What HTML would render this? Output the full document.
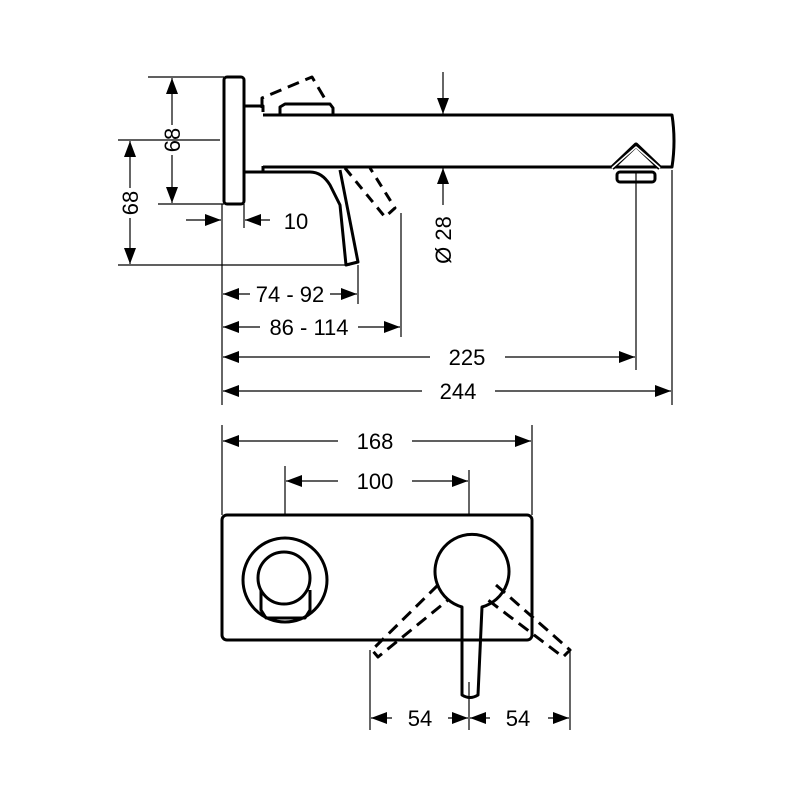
<!DOCTYPE html>
<html><head><style>html,body{margin:0;padding:0;background:#fff}</style></head><body>
<svg width="800" height="800" viewBox="0 0 800 800" xmlns="http://www.w3.org/2000/svg">
<defs>
<marker id="a" viewBox="0 0 16 12" refX="16" refY="6" markerWidth="16" markerHeight="12" markerUnits="userSpaceOnUse" orient="auto"><path d="M0,0L16,6L0,12z" fill="#000"/></marker>
</defs>
<g font-family="Liberation Sans, sans-serif" font-size="22" fill="#000">
<g stroke="#000" stroke-width="1.2" fill="none">
<line x1="148" y1="77" x2="224" y2="77"/>
<line x1="158" y1="204" x2="224" y2="204"/>
<line x1="118" y1="140" x2="220" y2="140"/>
<line x1="118" y1="265" x2="350" y2="265"/>
<line x1="222" y1="204" x2="222" y2="405"/>
<line x1="244" y1="204" x2="244" y2="228"/>
<line x1="358" y1="265" x2="358" y2="304"/>
<line x1="401" y1="213" x2="401" y2="337"/>
<line x1="636" y1="172" x2="636" y2="370"/>
<line x1="672" y1="170" x2="672" y2="405"/>
<line x1="172" y1="125" x2="172" y2="78" marker-end="url(#a)"/>
<line x1="172" y1="155" x2="172" y2="203" marker-end="url(#a)"/>
<line x1="130" y1="188" x2="130" y2="141" marker-end="url(#a)"/>
<line x1="130" y1="218" x2="130" y2="264" marker-end="url(#a)"/>
<line x1="186" y1="220" x2="221" y2="220" marker-end="url(#a)"/>
<line x1="270" y1="220" x2="245" y2="220" marker-end="url(#a)"/>
<line x1="443" y1="72" x2="443" y2="114" marker-end="url(#a)"/>
<line x1="443" y1="205" x2="443" y2="168" marker-end="url(#a)"/>
<line x1="250" y1="294" x2="223" y2="294" marker-end="url(#a)"/>
<line x1="330" y1="294" x2="357" y2="294" marker-end="url(#a)"/>
<line x1="260" y1="327" x2="223" y2="327" marker-end="url(#a)"/>
<line x1="358" y1="327" x2="400" y2="327" marker-end="url(#a)"/>
<line x1="430" y1="357" x2="223" y2="357" marker-end="url(#a)"/>
<line x1="505" y1="357" x2="635" y2="357" marker-end="url(#a)"/>
<line x1="422" y1="391" x2="223" y2="391" marker-end="url(#a)"/>
<line x1="495" y1="391" x2="671" y2="391" marker-end="url(#a)"/>
<line x1="222" y1="425" x2="222" y2="515"/>
<line x1="532" y1="425" x2="532" y2="515"/>
<line x1="285" y1="466" x2="285" y2="515"/>
<line x1="469" y1="470" x2="469" y2="515"/>
<line x1="338" y1="441" x2="223" y2="441" marker-end="url(#a)"/>
<line x1="412" y1="441" x2="531" y2="441" marker-end="url(#a)"/>
<line x1="338" y1="481" x2="286" y2="481" marker-end="url(#a)"/>
<line x1="412" y1="481" x2="468" y2="481" marker-end="url(#a)"/>
<line x1="370" y1="650" x2="370" y2="730"/>
<line x1="570" y1="650" x2="570" y2="730"/>
<line x1="469" y1="682" x2="469" y2="730"/>
<line x1="392" y1="718" x2="371" y2="718" marker-end="url(#a)"/>
<line x1="448" y1="718" x2="468" y2="718" marker-end="url(#a)"/>
<line x1="490" y1="718" x2="470" y2="718" marker-end="url(#a)"/>
<line x1="548" y1="718" x2="569" y2="718" marker-end="url(#a)"/>
</g>
<g stroke="#000" stroke-width="3" fill="none" stroke-linejoin="round">
<rect x="224" y="77" width="20" height="127" rx="3"/>
<path d="M244,106H263V112M244,172H263V166"/>
<path d="M263,115H672Q676,141 672,167H263"/>
<path d="M280,114V107L285,104H330L333,108V114"/>
<path d="M263,172H310Q322,172 330,185L340,205L346,265L358,262L340,170"/>
<path d="M262,108V98L312,77L328,104" stroke-dasharray="12,7"/>
<path d="M345,168L385,217L395,208L370,168" stroke-dasharray="10,7"/>
<path d="M612,168L636,145L660,168" stroke-width="5"/>
<path d="M612,168L636,147L660,168" stroke="#fff" stroke-width="1.5"/>
<rect x="617" y="172" width="38" height="10" rx="3"/>
<rect x="222" y="515" width="310" height="125" rx="5"/>
<circle cx="285" cy="580" r="42"/>
<circle cx="284" cy="578" r="26"/>
<path d="M261,590V610L266,618H305L310,610V590"/>
<path d="M462,607A37,37 0 1 1 482,607L478,695Q470,700 462,695Z"/>
<path d="M438,585L372,650L378,657L448,600M496,585L570,650L563,657L488,600" stroke-dasharray="12,7"/>
</g>
<text x="296" y="229" text-anchor="middle">10</text>
<text x="290" y="302" text-anchor="middle">74 - 92</text>
<text x="309" y="335" text-anchor="middle">86 - 114</text>
<text x="467" y="365" text-anchor="middle">225</text>
<text x="458" y="399" text-anchor="middle">244</text>
<text x="375" y="449" text-anchor="middle">168</text>
<text x="375" y="489" text-anchor="middle">100</text>
<text x="420" y="726" text-anchor="middle">54</text>
<text x="518" y="726" text-anchor="middle">54</text>
<text transform="translate(180,140) rotate(-90)" text-anchor="middle">68</text>
<text transform="translate(138,203) rotate(-90)" text-anchor="middle">68</text>
<text transform="translate(451,240) rotate(-90)" text-anchor="middle">Ø 28</text>
</g>
</svg>
</body></html>
